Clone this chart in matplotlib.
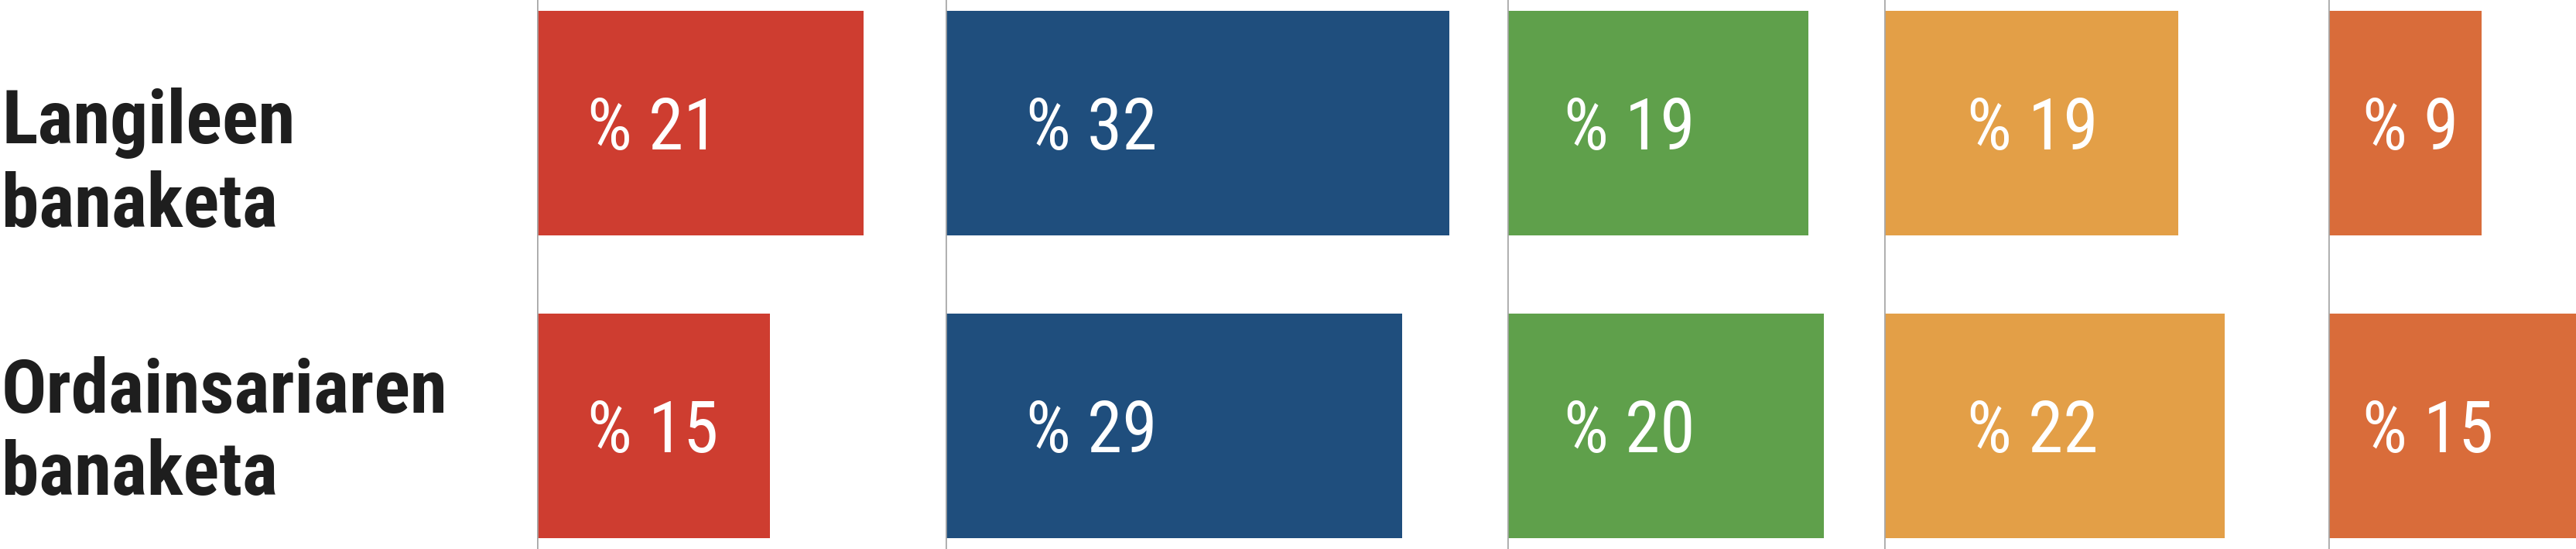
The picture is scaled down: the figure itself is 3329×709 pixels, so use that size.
import matplotlib
matplotlib.use("Agg")
import matplotlib.pyplot as plt

# data
rows = ["Langileen\nbanaketa", "Ordainsariaren\nbanaketa"]
red_vals = [21, 15]
blue_vals = [32, 29]
green_vals = [19, 20]
orange_vals = [19, 22]
dark_vals = [9, 15]
colors = ["#CE3D30", "#1F4E7D", "#5FA04B", "#E39F47", "#D96C3A"]

# layout (pixels of the 3330x709 canvas)
W, H = 3330, 709
panel_x = [694, 1222, 1948, 2435, 3009]
panel_w = [528, 726, 487, 574, 321]
panel_xmax = [26.3, 35.7, 23.8, 28.7, 14.6]
label_dx = [65, 104, 73, 107, 44]

cond = ["Roboto Condensed", "Liberation Sans Narrow", "Roboto", "DejaVu Sans"]

fig = plt.figure(figsize=(W / 100, H / 100), dpi=100)

series = [red_vals, blue_vals, green_vals, orange_vals, dark_vals]
for k, vals in enumerate(series):
    ax = fig.add_axes([panel_x[k] / W, 0, panel_w[k] / W, 1])
    ax.barh(range(len(vals)), vals, height=0.74, color=colors[k], zorder=2)
    ax.axvline(0, color="#a8a8a8", lw=2.6, zorder=3)
    ax.set_xlim(0, panel_xmax[k])
    ax.set_ylim(1.4066, -0.4066)
    ax.axis("off")
    for i, v in enumerate(vals):
        ax.annotate("% " + str(v), xy=(0, i), xytext=(label_dx[k] * 0.72, 0.5),
                    textcoords="offset points", color="white", fontsize=66,
                    family=cond, va="center_baseline", ha="left", zorder=4)

# row labels
baselines = [(185, 293), (533, 639)]
for lab, ys in zip(rows, baselines):
    for line, y in zip(lab.split("\n"), ys):
        fig.text(2 / W, 1 - y / H, line, fontsize=70, fontweight="bold",
                 family=cond, color="#1e1e1e", va="baseline", ha="left")

fig.savefig("out.png", dpi=100)
